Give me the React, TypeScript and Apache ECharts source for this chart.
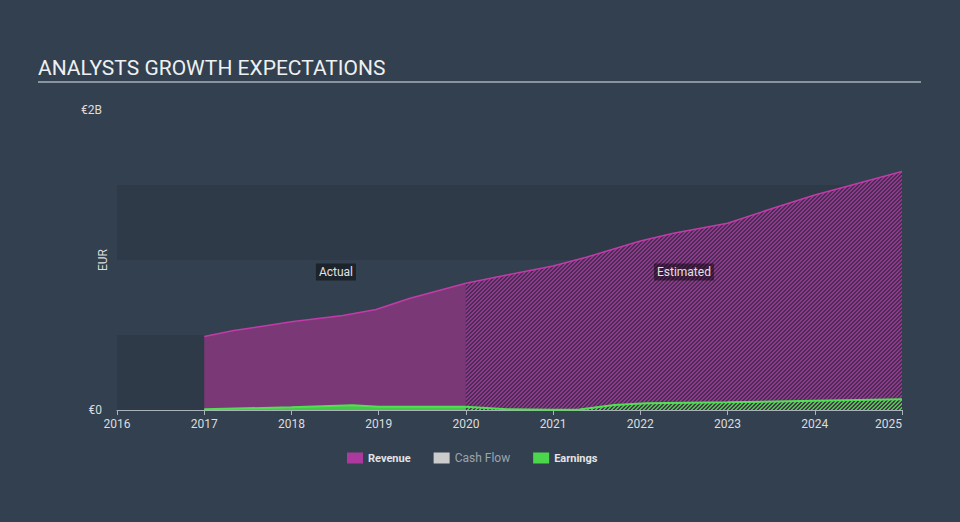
import React, { useEffect, useRef } from "react";
import * as echarts from "echarts";

// ---- data (values in billions EUR, x in decimal years) ----
const REV_ACT_YEARS = [2017, 2017.34, 2018.02, 2018.59, 2018.97, 2019.36, 2020];
const REV_ACT = [0.49, 0.53, 0.59, 0.63, 0.67, 0.745, 0.845];
const REV_EST_YEARS = [2020, 2020.47, 2021, 2021.39, 2022, 2022.38, 2023, 2023.52, 2024, 2025];
const REV_EST = [0.845, 0.9, 0.96, 1.02, 1.127, 1.178, 1.245, 1.345, 1.433, 1.59];
const EARN_ACT_YEARS = [2017, 2018, 2018.7, 2019, 2020];
const EARN_ACT = [0.005, 0.018, 0.031, 0.022, 0.022];
const EARN_EST_YEARS = [2020, 2020.47, 2021, 2021.3, 2021.7, 2022.07, 2023, 2024, 2025];
const EARN_EST = [0.022, 0.005, 0.002, 0.004, 0.033, 0.045, 0.051, 0.062, 0.071];
const CASH_FLOW: number[][] = [];
const LEGEND_NAMES = ["Revenue", "Cash Flow", "Earnings"];
const BANDS = [
  [0, 0.5],
  [1, 1.5],
];
const X_MIN = 2016;
const X_MAX = 2025;
const Y_MAX = 2;
const LABEL_ACTUAL = { text: "Actual", x: 2018.51, y: 0.92 };
const LABEL_EST = { text: "Estimated", x: 2022.5, y: 0.92 };

const B = 1e9;
const pairs = (xs: number[], ys: number[]) => xs.map((x, i) => [x, ys[i] * B]);

function hatch(stripe: string, bg: string, size = 4) {
  const c = document.createElement("canvas");
  c.width = size;
  c.height = size;
  const ctx = c.getContext("2d")!;
  for (let x = 0; x < size; x++) {
    for (let y = 0; y < size; y++) {
      ctx.clearRect(x, y, 1, 1);
      ctx.fillStyle = (x + y) % size < 2 ? stripe : bg;
      ctx.fillRect(x, y, 1, 1);
    }
  }
  return c;
}

export default function App() {
  const ref = useRef<HTMLDivElement>(null);
  useEffect(() => {
    document.body.style.margin = "0";
    const chart = echarts.init(ref.current!, null, { renderer: "svg" });
    const revHatch = hatch("#8e398a", "#4b2c57");
    const earnHatch = hatch("#4fc24f", "rgba(60,80,60,0.35)");
    const labelStyle = {
      show: true,
      position: "inside",
      color: "#e2e2e2",
      fontSize: 12,
      fontFamily: "Roboto",
      backgroundColor: "rgba(0,0,0,0.45)",
      padding: [3, 3, 2, 3],
    };
    chart.setOption({
      animation: false,
      backgroundColor: "#33404f",
      textStyle: { fontFamily: "Roboto" },
      title: {
        text: "ANALYSTS GROWTH EXPECTATIONS",
        left: 33,
        top: 52,
        textStyle: { color: "#eef0f2", fontSize: 21, fontWeight: "normal", fontFamily: "Roboto" },
      },
      graphic: [
        {
          type: "line",
          shape: { x1: 38, y1: 82, x2: 921, y2: 82 },
          style: { stroke: "#a9b1ba", lineWidth: 1.5 },
        },
      ],
      legend: {
        left: 342,
        top: 447,
        icon: "rect",
        itemWidth: 16,
        itemHeight: 11,
        itemGap: 23,
        data: [
          { name: LEGEND_NAMES[0], textStyle: { color: "#e4e4e4", fontWeight: "bold", fontSize: 11 } },
          { name: LEGEND_NAMES[1], textStyle: { color: "#9ca4ad", fontSize: 12 } },
          { name: LEGEND_NAMES[2], textStyle: { color: "#e4e4e4", fontWeight: "bold", fontSize: 11 } },
        ],
      },
      grid: { left: 117, right: 58, top: 110, bottom: 112 },
      xAxis: {
        type: "value",
        min: X_MIN,
        max: X_MAX,
        interval: 1,
        axisLine: { lineStyle: { color: "#aab2bb", width: 1 } },
        axisTick: { show: true, length: 5, lineStyle: { color: "#aab2bb" } },
        splitLine: { show: false },
        axisLabel: {
          color: "#dcdcdc",
          fontSize: 12,
          margin: 8,
          alignMaxLabel: "right",
          formatter: (v: number) => String(v),
        },
      },
      yAxis: {
        type: "value",
        min: 0,
        max: Y_MAX * B,
        interval: 0.5 * B,
        name: "EUR",
        nameLocation: "middle",
        nameRotate: 90,
        nameGap: 8,
        nameMoveOverlap: false,
        nameTextStyle: { color: "#dcdcdc", fontSize: 12 },
        axisLine: { show: false },
        axisTick: { show: false },
        splitLine: { show: false },
        axisLabel: {
          color: "#dcdcdc",
          fontSize: 12,
          margin: 15,
          formatter: (v: number) => (v === 0 ? "€0" : v === Y_MAX * B ? "€2B" : ""),
        },
      },
      series: [
        {
          name: "bands",
          type: "line",
          z: 0,
          data: [[X_MIN, 0]],
          symbol: "none",
          lineStyle: { opacity: 0 },
          silent: true,
          markArea: {
            silent: true,
            itemStyle: { color: "#2e3a48" },
            data: BANDS.map(([a, b]) => [{ yAxis: a * B }, { yAxis: b * B }]),
          },
        },
        {
          name: "Revenue",
          type: "line",
          z: 2,
          data: pairs(REV_ACT_YEARS, REV_ACT),
          symbol: "none",
          itemStyle: { color: "#ac3a9e" },
          lineStyle: { color: "#c23ba8", width: 1.5 },
          areaStyle: { color: "#7b3876", opacity: 1 },
        },
        {
          name: "Revenue",
          type: "line",
          z: 2,
          data: pairs(REV_EST_YEARS, REV_EST),
          symbol: "none",
          itemStyle: { color: "#ac3a9e" },
          lineStyle: { color: "#c23ba8", width: 1.5 },
          areaStyle: {
            color: { image: revHatch, repeat: "repeat", imageWidth: 4, imageHeight: 4 },
            opacity: 1,
          },
        },
        {
          name: "Cash Flow",
          type: "line",
          data: CASH_FLOW,
          symbol: "none",
          itemStyle: { color: "#cccccc" },
        },
        {
          name: "Earnings",
          type: "line",
          z: 3,
          data: pairs(EARN_ACT_YEARS, EARN_ACT),
          symbol: "none",
          itemStyle: { color: "#4cd64c" },
          lineStyle: { color: "#52e052", width: 2 },
          areaStyle: { color: "#46c84a", opacity: 1 },
        },
        {
          name: "Earnings",
          type: "line",
          z: 3,
          data: pairs(EARN_EST_YEARS, EARN_EST),
          symbol: "none",
          itemStyle: { color: "#4cd64c" },
          lineStyle: { color: "#52e052", width: 2 },
          areaStyle: {
            color: { image: earnHatch, repeat: "repeat", imageWidth: 4, imageHeight: 4 },
            opacity: 1,
          },
        },
        {
          name: "labels",
          type: "line",
          z: 5,
          data: [],
          symbol: "none",
          markPoint: {
            silent: true,
            symbol: "rect",
            symbolSize: 1,
            itemStyle: { color: "rgba(0,0,0,0)" },
            data: [
              { coord: [LABEL_ACTUAL.x, LABEL_ACTUAL.y * B], label: { ...labelStyle, formatter: LABEL_ACTUAL.text } },
              { coord: [LABEL_EST.x, LABEL_EST.y * B], label: { ...labelStyle, formatter: LABEL_EST.text } },
            ],
          },
        },
      ],
    });
    return () => chart.dispose();
  }, []);
  return (
    <div
      ref={ref}
      style={{ position: "fixed", left: 0, top: 0, width: 960, height: 522 }}
    />
  );
}
